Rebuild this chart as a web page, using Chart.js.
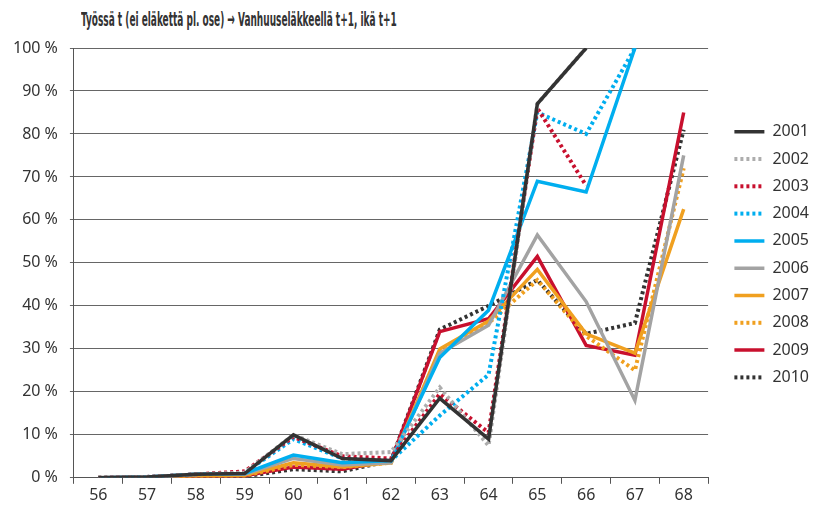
<!DOCTYPE html>
<html>
<head>
<meta charset="utf-8">
<script src="https://cdn.jsdelivr.net/npm/chart.js@4.4.1/dist/chart.umd.min.js"></script>
<style>
    html, body { margin: 0; padding: 0; background: #fff; }
    #wrap { position: relative; width: 821px; height: 507px; }
    #title {
        position: absolute; left: 81px; top: 7px;
        font: bold 20px "Liberation Sans Narrow", "DejaVu Sans Condensed", sans-serif;
        color: #333; white-space: nowrap; transform-origin: 0 0;
    }
    canvas { position: absolute; left: 0; top: 0; }
</style>
</head>
<body>
<div id="wrap">
    <div id="title">Työssä t (ei eläkettä pl. ose) → Vanhuuseläkkeellä t+1, ikä t+1</div>
    <canvas id="chart" width="821" height="507"></canvas>
</div>
<script>
const ages = ['56', '57', '58', '59', '60', '61', '62', '63', '64', '65', '66', '67', '68'];
const yTicks = [0, 10, 20, 30, 40, 50, 60, 70, 80, 90, 100];

// osuudet prosentteina, ikä 56..68
const y2001 = [0, 0.2, 0.8, 1.0, 10.0, 4.5, 4.0, 18.5, 9.0, 87.0, 100, null, null];
const y2002 = [0, 0.2, 0.8, 1.2, 10.0, 5.5, 6.0, 21.0, 7.5, 87.0, 100, null, null];
const y2003 = [0, 0.2, 0.8, 1.5, 9.5, 5.0, 4.5, 19.5, 10.5, 86.0, 68.0, null, null];
const y2004 = [0, 0.2, 0.8, 1.2, 9.0, 4.5, 4.0, 14.5, 24.0, 85.0, 80.0, 100, null];
const y2005 = [0, 0.2, 0.8, 1.0, 5.3, 3.5, 4.0, 28.0, 39.0, 69.0, 66.5, 100, null];
const y2006 = [0, 0.2, 0.8, 0.8, 4.5, 3.0, 3.5, 29.0, 35.5, 56.5, 41.0, 18.0, 75.0];
const y2007 = [0, 0.1, 0.5, 0.6, 3.5, 2.5, 3.5, 30.0, 36.5, 48.5, 33.5, 29.0, 62.5];
const y2008 = [0, 0.1, 0.5, 0.5, 3.0, 2.5, 3.5, 29.0, 36.0, 46.0, 33.0, 25.0, 72.0];
const y2009 = [0, 0.1, 0.4, 0.5, 2.5, 2.0, 4.0, 34.0, 37.0, 51.5, 30.8, 28.5, 85.0];
const y2010 = [0, 0.1, 0.3, 0.3, 2.0, 1.5, 4.0, 34.5, 40.0, 46.0, 33.5, 36.0, 81.0];

const DARK = '#333333', GREY = '#a3a3a3', LIGHTGREY = '#adadad', RED = '#c8102e', BLUE = '#00aeef', ORANGE = '#f0a020';
const DOTS = [3, 3];

function series(label, data, color, dotted) {
    return {
        label: label,
        data: data,
        borderColor: color,
        backgroundColor: color,
        borderWidth: dotted ? 4 : 3.5,
        borderDash: dotted ? DOTS : [],
        borderCapStyle: 'butt',
        pointRadius: 0,
        tension: 0,
        fill: false
    };
}

const datasets = [
    series('2001', y2001, DARK, false),
    series('2002', y2002, LIGHTGREY, true),
    series('2003', y2003, RED, true),
    series('2004', y2004, BLUE, true),
    series('2005', y2005, BLUE, false),
    series('2006', y2006, GREY, false),
    series('2007', y2007, ORANGE, false),
    series('2008', y2008, ORANGE, true),
    series('2009', y2009, RED, false),
    series('2010', y2010, DARK, true)
];

const tickFont = {family: '"Noto Sans", sans-serif', size: 16};

// point style legend loses the dash, put it back
function legendLabels(chart) {
    return Chart.defaults.plugins.legend.labels.generateLabels(chart).map((item) => {
        const ds = chart.data.datasets[item.datasetIndex];
        item.lineDash = ds.borderDash;
        item.lineWidth = ds.borderWidth;
        return item;
    });
}

new Chart(document.getElementById('chart'), {
    type: 'line',
    data: {labels: ages, datasets: datasets},
    options: {
        responsive: false,
        devicePixelRatio: 1,
        animation: false,
        layout: {padding: {top: 48, left: 1, right: 2, bottom: 0}},
        plugins: {
            title: {display: false},
            tooltip: {enabled: false},
            legend: {
                position: 'right',
                align: 'start',
                fullSize: false,
                // empty title only as a spacer above the items
                title: {display: true, text: '', font: {size: 12}, padding: {top: 0, bottom: 50}},
                labels: {
                    usePointStyle: true,
                    pointStyle: 'line',
                    pointStyleWidth: 30,
                    boxHeight: 4,
                    padding: 11.3,
                    color: '#333',
                    font: {family: '"Noto Sans", sans-serif', size: 16},
                    generateLabels: legendLabels
                }
            }
        },
        scales: {
            x: {
                offset: true,
                grid: {drawOnChartArea: false, drawTicks: true, tickLength: 6, color: '#555', offset: true},
                border: {display: true, color: '#555', width: 1},
                ticks: {color: '#333', font: tickFont, padding: 2, maxRotation: 0}
            },
            y: {
                min: 0,
                max: 100,
                afterBuildTicks: (scale) => { scale.ticks = yTicks.map(v => ({value: v})); },
                grid: {color: '#666', lineWidth: 1, tickLength: 4},
                border: {display: true, color: '#555', width: 1},
                ticks: {color: '#333', font: tickFont, padding: 12, callback: (v) => v + ' %'}
            },
            yR: {
                position: 'right',
                display: true,
                grid: {display: false},
                border: {display: false},
                ticks: {display: false},
                afterFit: (scale) => { scale.width = 15; }
            }
        }
    }
});

// title width as in the reference
const t = document.getElementById('title');
t.style.transform = 'scaleX(' + (316 / t.offsetWidth) + ')';
</script>
</body>
</html>
